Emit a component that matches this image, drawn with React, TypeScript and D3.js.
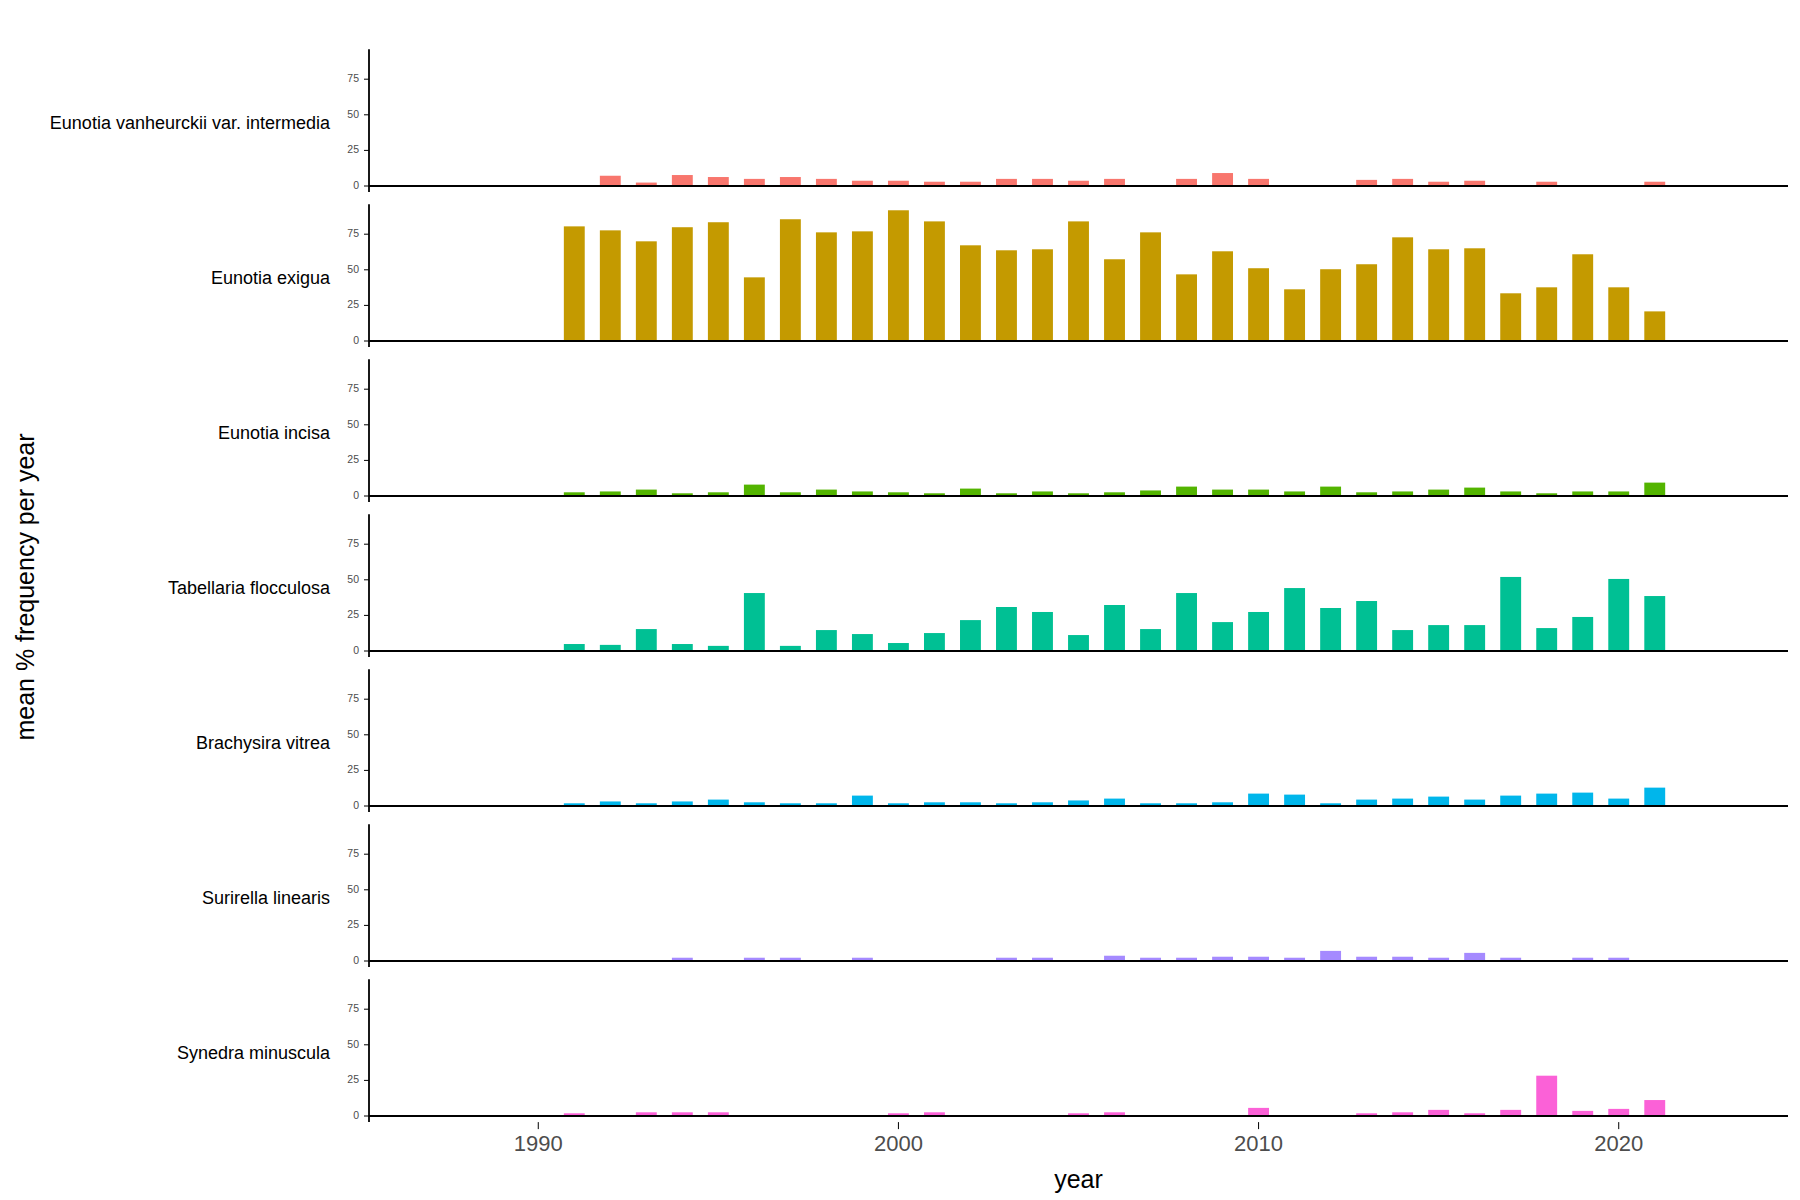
import React from "react";
import * as d3 from "d3";

const years: number[] = [
  1991, 1992, 1993, 1994, 1995, 1996, 1997, 1998, 1999, 2000, 2001, 2002, 2003, 2004, 2005, 2006,
  2007, 2008, 2009, 2010, 2011, 2012, 2013, 2014, 2015, 2016, 2017, 2018, 2019, 2020, 2021,
];

const taxa: string[] = [
  "Eunotia vanheurckii var. intermedia",
  "Eunotia exigua",
  "Eunotia incisa",
  "Tabellaria flocculosa",
  "Brachysira vitrea",
  "Surirella linearis",
  "Synedra minuscula",
];

const colors: string[] = ["#F8766D", "#C49A00", "#53B400", "#00C094", "#00B6EB", "#A58AFF", "#FB61D7"];

const N = null;
const vanheurckii: (number | null)[] = [
  N, 7.2, 2.4, 7.7, 6.3, 5.0, 6.3, 5.0, 3.7, 3.7, 3.0, 3.0, 5.0, 5.0, 3.7, 5.0,
  N, 5.0, 9.1, 5.0, N, N, 4.3, 5.0, 3.0, 3.7, N, 3.0, N, N, 3.0,
];
const exigua: (number | null)[] = [
  80.5, 77.7, 70, 79.9, 83.4, 44.7, 85.5, 76.3, 77, 91.8, 84, 67.2, 63.7, 64.4, 84, 57.4,
  76.3, 46.8, 63, 51.1, 36.3, 50.4, 53.9, 72.8, 64.4, 65.1, 33.5, 37.7, 60.9, 37.7, 20.8,
];
const incisa: (number | null)[] = [
  2.6, 3.2, 4.5, 1.9, 2.6, 8.0, 2.6, 4.5, 3.2, 2.6, 1.9, 5.2, 1.9, 3.2, 1.9, 2.6,
  3.9, 6.6, 4.5, 4.5, 3.2, 6.6, 2.6, 3.2, 4.5, 5.9, 3.2, 1.9, 3.2, 3.2, 9.4,
];
const tabellaria: (number | null)[] = [
  4.9, 4.3, 15.4, 4.9, 3.6, 40.7, 3.6, 14.7, 11.9, 5.6, 12.6, 21.7, 30.9, 27.4, 11.2, 32.3,
  15.4, 40.7, 20.3, 27.4, 44.2, 30.2, 35.1, 14.7, 18.2, 18.2, 52, 16.1, 23.9, 50.6, 38.6,
];
const brachysira: (number | null)[] = [
  1.9, 3.2, 1.9, 3.2, 4.5, 2.6, 1.9, 1.9, 7.3, 1.9, 2.6, 2.6, 1.9, 2.6, 3.9, 5.2,
  1.9, 1.9, 2.6, 8.7, 8.0, 1.9, 4.5, 5.2, 6.6, 4.5, 7.3, 8.7, 9.4, 5.2, 12.9,
];
const surirella: (number | null)[] = [
  N, N, N, 2.3, N, 2.3, 2.3, N, 2.3, N, N, N, 2.3, 2.3, N, 3.7,
  2.3, 2.3, 3.0, 3.0, 2.3, 7.1, 3.0, 3.0, 2.3, 5.7, 2.3, N, 2.3, 2.3, N,
];
const synedra: (number | null)[] = [
  1.9, N, 2.6, 2.6, 2.6, N, N, N, N, 1.9, 2.6, N, N, N, 1.9, 2.6,
  N, N, N, 5.7, N, N, 1.9, 2.6, 4.3, 1.9, 4.3, 28.3, 3.6, 5.0, 11.2,
];

const seriesValues = [vanheurckii, exigua, incisa, tabellaria, brachysira, surirella, synedra];

const yTicks: number[] = [0, 25, 50, 75];
const xTicks: number[] = [1990, 2000, 2010, 2020];

const W = 1800;
const H = 1200;
const left = 369;
const right = 1788;
const firstBaseline = 186;
const pitch = 155;
const pxPerUnit = 1.424;
const yMax = 96;
const yMin = -4.3;
const barWidthYears = 0.58;
const font = "'Liberation Sans', Arial, sans-serif";

export default function App() {
  const x = d3.scaleLinear().domain([1985.3, 2024.7]).range([left, right]);
  const barW = x(1985.3 + barWidthYears) - x(1985.3);

  return (
    <svg width={W} height={H} style={{ position: "absolute", left: 0, top: 0, background: "#fff" }}>
      <rect x={0} y={0} width={W} height={H} fill="#fff" />
      {taxa.map((name, i) => {
        const base = firstBaseline + i * pitch;
        const y = d3
          .scaleLinear()
          .domain([yMin, yMax])
          .range([base - yMin * pxPerUnit, base - yMax * pxPerUnit]);
        const vals = seriesValues[i];
        const top = y(yMax);
        const bottom = y(yMin);
        return (
          <g key={name}>
            <text
              x={330}
              y={(top + bottom) / 2 + 3.5}
              textAnchor="end"
              dominantBaseline="middle"
              fontFamily={font}
              fontSize={18}
              fill="#000"
            >
              {name}
            </text>
            {vals.map((v, j) =>
              v == null ? null : (
                <rect
                  key={j}
                  x={x(years[j]) - barW / 2}
                  y={y(v)}
                  width={barW}
                  height={y(0) - y(v)}
                  fill={colors[i]}
                />
              )
            )}
            <line x1={left} x2={right} y1={y(0)} y2={y(0)} stroke="#000" strokeWidth={2} />
            <line x1={left} x2={left} y1={top} y2={bottom} stroke="#000" strokeWidth={1.8} />
            {yTicks.map((t) => (
              <g key={t}>
                <line x1={left - 5} x2={left} y1={y(t)} y2={y(t)} stroke="#000" strokeWidth={1} />
                <text
                  x={left - 10}
                  y={y(t)}
                  textAnchor="end"
                  dominantBaseline="middle"
                  fontFamily={font}
                  fontSize={10.5}
                  fill="#4D4D4D"
                >
                  {t}
                </text>
              </g>
            ))}
            {i === taxa.length - 1 &&
              xTicks.map((t) => (
                <g key={t}>
                  <line x1={x(t)} x2={x(t)} y1={bottom} y2={bottom + 7} stroke="#000" strokeWidth={1} />
                  <text
                    x={x(t)}
                    y={bottom + 23}
                    textAnchor="middle"
                    dominantBaseline="middle"
                    fontFamily={font}
                    fontSize={22}
                    fill="#4D4D4D"
                  >
                    {t}
                  </text>
                </g>
              ))}
          </g>
        );
      })}
      <text
        x={(left + right) / 2}
        y={1181}
        textAnchor="middle"
        dominantBaseline="middle"
        fontFamily={font}
        fontSize={25}
        fill="#000"
      >
        year
      </text>
      <text
        transform={`translate(27, 587) rotate(-90)`}
        textAnchor="middle"
        dominantBaseline="middle"
        fontFamily={font}
        fontSize={25}
        fill="#000"
      >
        mean % frequency per year
      </text>
    </svg>
  );
}
